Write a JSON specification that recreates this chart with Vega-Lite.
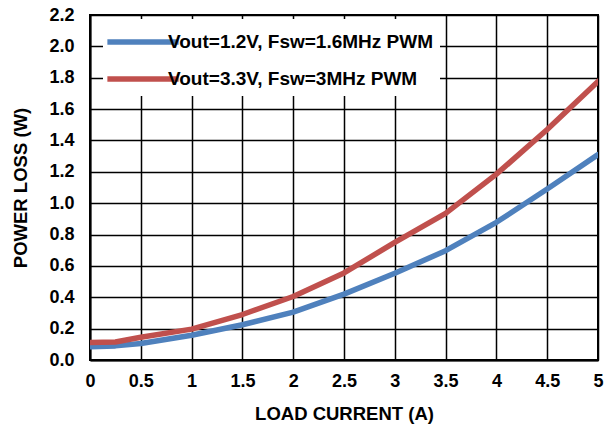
{
  "$schema": "https://vega.github.io/schema/vega-lite/v6.json",
  "width": 508,
  "height": 345,
  "autosize": "none",
  "padding": {"left": 90, "top": 15, "right": 6, "bottom": 64},
  "background": "white",
  "config": {
    "font": "Liberation Sans",
    "view": {"stroke": "black", "strokeWidth": 2}
  },
  "data": {
    "values": [
      {"I": 0, "P": 0.085, "s": "Vout=1.2V, Fsw=1.6MHz PWM"},
      {"I": 0.25, "P": 0.09, "s": "Vout=1.2V, Fsw=1.6MHz PWM"},
      {"I": 0.5, "P": 0.105, "s": "Vout=1.2V, Fsw=1.6MHz PWM"},
      {"I": 1, "P": 0.158, "s": "Vout=1.2V, Fsw=1.6MHz PWM"},
      {"I": 1.5, "P": 0.225, "s": "Vout=1.2V, Fsw=1.6MHz PWM"},
      {"I": 2, "P": 0.305, "s": "Vout=1.2V, Fsw=1.6MHz PWM"},
      {"I": 2.5, "P": 0.42, "s": "Vout=1.2V, Fsw=1.6MHz PWM"},
      {"I": 3, "P": 0.553, "s": "Vout=1.2V, Fsw=1.6MHz PWM"},
      {"I": 3.5, "P": 0.697, "s": "Vout=1.2V, Fsw=1.6MHz PWM"},
      {"I": 4, "P": 0.878, "s": "Vout=1.2V, Fsw=1.6MHz PWM"},
      {"I": 4.5, "P": 1.09, "s": "Vout=1.2V, Fsw=1.6MHz PWM"},
      {"I": 5, "P": 1.31, "s": "Vout=1.2V, Fsw=1.6MHz PWM"},
      {"I": 0, "P": 0.112, "s": "Vout=3.3V, Fsw=3MHz PWM"},
      {"I": 0.25, "P": 0.115, "s": "Vout=3.3V, Fsw=3MHz PWM"},
      {"I": 0.5, "P": 0.145, "s": "Vout=3.3V, Fsw=3MHz PWM"},
      {"I": 1, "P": 0.197, "s": "Vout=3.3V, Fsw=3MHz PWM"},
      {"I": 1.5, "P": 0.29, "s": "Vout=3.3V, Fsw=3MHz PWM"},
      {"I": 2, "P": 0.405, "s": "Vout=3.3V, Fsw=3MHz PWM"},
      {"I": 2.5, "P": 0.555, "s": "Vout=3.3V, Fsw=3MHz PWM"},
      {"I": 3, "P": 0.75, "s": "Vout=3.3V, Fsw=3MHz PWM"},
      {"I": 3.5, "P": 0.935, "s": "Vout=3.3V, Fsw=3MHz PWM"},
      {"I": 4, "P": 1.185, "s": "Vout=3.3V, Fsw=3MHz PWM"},
      {"I": 4.5, "P": 1.47, "s": "Vout=3.3V, Fsw=3MHz PWM"},
      {"I": 5, "P": 1.776, "s": "Vout=3.3V, Fsw=3MHz PWM"}
    ]
  },
  "mark": {"type": "line", "strokeWidth": 5.5, "strokeCap": "round", "strokeJoin": "round", "clip": true},
  "encoding": {
    "x": {
      "field": "I", "type": "quantitative",
      "scale": {"domain": [0, 5], "nice": false, "zero": false},
      "axis": {
        "values": [0, 0.5, 1, 1.5, 2, 2.5, 3, 3.5, 4, 4.5, 5],
        "labelExpr": "'' + datum.value",
        "title": "LOAD CURRENT (A)",
        "titleFontSize": 18.5, "titleFontWeight": "bold", "titleColor": "black", "titlePadding": 14,
        "labelFontSize": 18, "labelFontWeight": "bold", "labelColor": "black", "labelPadding": 12,
        "labelFlush": false,
        "ticks": false, "domain": true, "domainColor": "black", "domainWidth": 2,
        "grid": true, "gridColor": "black", "gridWidth": 1.5, "gridOpacity": 1
      }
    },
    "y": {
      "field": "P", "type": "quantitative",
      "scale": {"domain": [0, 2.2], "nice": false, "zero": true},
      "axis": {
        "values": [0, 0.2, 0.4, 0.6, 0.8, 1.0, 1.2, 1.4, 1.6, 1.8, 2.0, 2.2],
        "format": ".1f",
        "title": "POWER LOSS (W)",
        "titleFontSize": 18.5, "titleFontWeight": "bold", "titleColor": "black", "titlePadding": 18,
        "labelFontSize": 18, "labelFontWeight": "bold", "labelColor": "black", "labelPadding": 16,
        "labelFlush": false,
        "ticks": false, "domain": true, "domainColor": "black", "domainWidth": 2,
        "grid": true, "gridColor": "black", "gridWidth": 1.5, "gridOpacity": 1
      }
    },
    "color": {
      "field": "s", "type": "nominal",
      "scale": {"domain": ["Vout=1.2V, Fsw=1.6MHz PWM", "Vout=3.3V, Fsw=3MHz PWM"], "range": ["#4F81BD", "#C0504D"]},
      "legend": {
        "orient": "none", "legendX": 13, "legendY": 4,
        "title": null,
        "fillColor": "white", "padding": 6,
        "symbolType": "M-2.5,0H2.5", "symbolSize": 812, "symbolStrokeWidth": 5.5,
        "symbolOffset": 17,
        "labelFontSize": 19, "labelFontWeight": "bold", "labelColor": "black", "labelOffset": 8,
        "rowPadding": 9, "labelLimit": 400
      }
    }
  }
}
